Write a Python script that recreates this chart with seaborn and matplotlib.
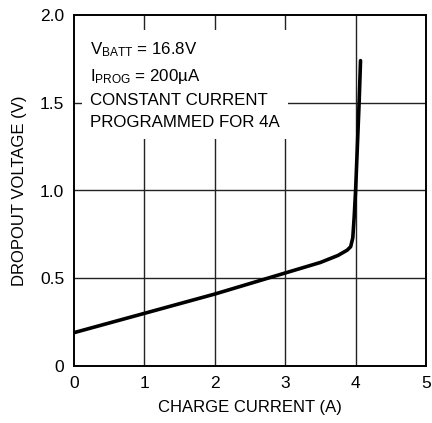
import matplotlib
matplotlib.use('Agg')
import numpy as np
import pandas as pd
import seaborn as sns
import matplotlib.pyplot as plt

# dropout voltage vs charge current
charge_current = [0.0, 0.5, 1.0, 1.5, 2.0, 2.5, 3.0, 3.5, 3.75, 3.88, 3.93,
                  3.96, 3.98, 4.0, 4.03, 4.05, 4.07]
dropout_voltage = [0.19, 0.245, 0.30, 0.355, 0.41, 0.47, 0.53, 0.59, 0.63,
                   0.66, 0.68, 0.73, 0.85, 1.0, 1.3, 1.5, 1.74]
x_ticks = [0, 1, 2, 3, 4, 5]
y_ticks = [0, 0.5, 1.0, 1.5, 2.0]
y_tick_labels = ['0', '0.5', '1.0', '1.5', '2.0']
note_lines = [r'V$_{\mathrm{BATT}}$ = 16.8V',
              r'I$_{\mathrm{PROG}}$ = 200µA',
              'CONSTANT CURRENT',
              'PROGRAMMED FOR 4A']

sns.set_style('white')
plt.rcParams['font.family'] = ['Liberation Sans', 'DejaVu Sans']
plt.rcParams['mathtext.fontset'] = 'custom'
plt.rcParams['mathtext.rm'] = 'Liberation Sans'
plt.rcParams['mathtext.it'] = 'Liberation Sans'
plt.rcParams['text.color'] = 'black'
plt.rcParams['axes.labelcolor'] = 'black'

df = pd.DataFrame({'current': charge_current, 'voltage': dropout_voltage})

fig = plt.figure(figsize=(4.32, 4.23), dpi=100)
ax = fig.add_axes([74 / 432, 57 / 423, 352 / 432, 351 / 423])

for xv in x_ticks[1:-1]:
    ax.axvline(xv, color='#222222', lw=1.0, zorder=1)
for yv in y_ticks[1:-1]:
    ax.axhline(yv, color='#222222', lw=1.0, zorder=1)

sns.lineplot(data=df, x='current', y='voltage', estimator=None, sort=False,
             color='black', lw=2.6, ax=ax, zorder=3)

ax.set_xlim(0, 5)
ax.set_ylim(0, 2.0)
ax.set_xticks(x_ticks)
ax.set_xticklabels([str(t) for t in x_ticks])
ax.set_yticks(y_ticks)
ax.set_yticklabels(y_tick_labels)
ax.tick_params(length=0, labelsize=12.5, pad=7, colors='black')
ax.set_xlabel('CHARGE CURRENT (A)', fontsize=12, labelpad=7)
ax.set_ylabel('DROPOUT VOLTAGE (V)', fontsize=12, labelpad=9)
for s in ax.spines.values():
    s.set_color('black')
    s.set_linewidth(1.4)

ax.text(0.23, 1.60, '\n'.join(note_lines), fontsize=12.2, va='center',
        ha='left', linespacing=1.6, zorder=4,
        bbox=dict(facecolor='white', edgecolor='none', pad=6))

fig.savefig('out.png', dpi=100)
